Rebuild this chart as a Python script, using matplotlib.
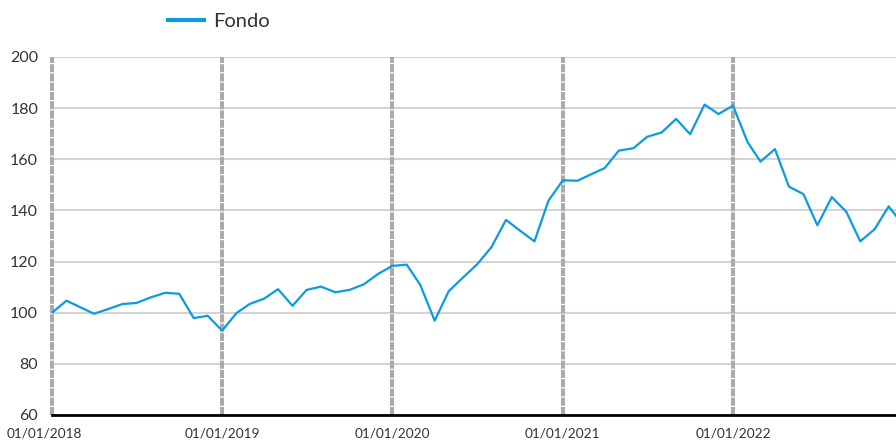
import datetime as dt
import matplotlib
matplotlib.use("Agg")
import matplotlib.pyplot as plt
import matplotlib.dates as mdates
from matplotlib.transforms import ScaledTranslation

# monthly NAV, base 100 at 01/01/2018
START = (2018, 1)
FONDO = [
    100.0, 104.7, 102.3, 99.6, 101.4, 103.4, 103.8, 106.0, 107.8, 107.4, 97.9, 98.8,
    93.0, 99.9, 103.4, 105.5, 109.2, 102.7, 108.9, 110.2, 108.0, 108.9, 111.1, 115.1,
    118.3, 118.8, 110.9, 96.9, 108.4, 113.8, 118.9, 125.7, 136.3, 132.1, 127.9, 143.8,
    151.8, 151.6, 154.0, 156.6, 163.4, 164.3, 168.8, 170.5, 175.8, 169.8, 181.4, 177.7,
    181.0, 166.8, 159.1, 164.0, 149.3, 146.4, 134.2, 145.2, 139.5, 127.9, 132.7, 141.6,
    134.3,
]
YEARS = [2018, 2019, 2020, 2021, 2022]
YTICKS = [60, 80, 100, 120, 140, 160, 180, 200]


def month_dates(n):
    y, m = START
    out = []
    for _ in range(n):
        out.append(dt.date(y, m, 1))
        m += 1
        if m > 12:
            y, m = y + 1, 1
    return out


plt.rcParams["font.family"] = ["Lato", "DejaVu Sans"]
fig = plt.figure(figsize=(8.96, 4.42), dpi=100)
ax = fig.add_axes([52 / 896, 27 / 442, 1 - 52 / 896, (415 - 57) / 442])

dates = month_dates(len(FONDO))
ax.plot(dates, FONDO, color="#0a9be0", lw=1.6, label="Fondo", zorder=3)

ticks = [dt.date(y, 1, 1) for y in YEARS]
for t in ticks:
    ax.axvline(t, color="#aaaaaa", lw=2.9, ls=(0, (2.0, 0.3)), zorder=2, clip_on=False)

x0 = mdates.date2num(dt.date(2018, 1, 1))
x1 = mdates.date2num(dt.date(2022, 1, 1))
ppx = (x1 - x0) / (733 - 52)
ax.set_xlim(x0, x0 + ppx * (896 - 52))
ax.set_ylim(60, 200)

ax.set_yticks(YTICKS)
ax.yaxis.grid(True, color="#d4d4d4", lw=1.5)
ax.set_axisbelow(True)
ax.set_xticks(ticks)
ax.xaxis.set_major_formatter(mdates.DateFormatter("%d/%m/%Y"))
ax.tick_params(axis="both", length=0, colors="#333333")
ax.tick_params(axis="y", labelsize=11.5, pad=10)
ax.tick_params(axis="x", labelsize=9.8, pad=9)

for s in ("top", "right", "left"):
    ax.spines[s].set_visible(False)
ax.spines["bottom"].set_color("black")
ax.spines["bottom"].set_linewidth(2)
ax.spines["bottom"].set_zorder(4)

# first date label sits flush with the left edge
first = ax.get_xticklabels()[0]
first.set_transform(first.get_transform() + ScaledTranslation(-8 / 100, 0, fig.dpi_scale_trans))

fig.legend(loc="upper left", bbox_to_anchor=(150 / 896, 1.012), frameon=False,
           fontsize=14.5, handlelength=1.8, handletextpad=0.45, labelcolor="#333333")
for line in fig.legends[0].get_lines():
    line.set_linewidth(3)

fig.savefig("out.png", dpi=100)
